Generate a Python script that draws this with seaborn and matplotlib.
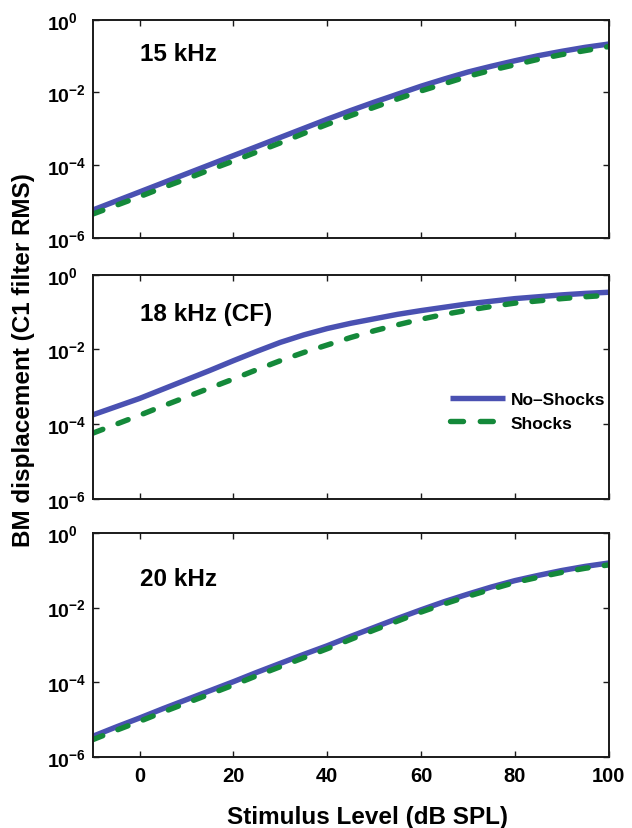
import numpy as np
import pandas as pd
import matplotlib
matplotlib.use("Agg")
import matplotlib.pyplot as plt
import seaborn as sns

# Stimulus levels (dB SPL)
levels = [-10, -5, 0, 5, 10, 15, 20, 25, 30, 35, 40, 45, 50,
          55, 60, 65, 70, 75, 80, 85, 90, 95, 100]

# log10 of BM displacement (C1 filter RMS) per probe frequency
no_shocks_15k = [-5.24, -4.99, -4.74, -4.49, -4.24, -3.99, -3.74, -3.49, -3.24, -2.99, -2.74, -2.50,
                 -2.27, -2.05, -1.83, -1.63, -1.44, -1.28, -1.13, -0.99, -0.87, -0.76, -0.67]
shocks_15k    = [-5.35, -5.11, -4.87, -4.62, -4.38, -4.13, -3.89, -3.64, -3.39, -3.13, -2.88, -2.64,
                 -2.41, -2.18, -1.96, -1.76, -1.56, -1.39, -1.24, -1.09, -0.96, -0.85, -0.74]

no_shocks_18k = [-3.75, -3.53, -3.31, -3.06, -2.81, -2.56, -2.30, -2.05, -1.81, -1.61, -1.44, -1.30,
                 -1.18, -1.06, -0.96, -0.87, -0.78, -0.71, -0.64, -0.59, -0.54, -0.50, -0.47]
shocks_18k    = [-4.24, -4.00, -3.76, -3.51, -3.27, -3.03, -2.79, -2.54, -2.30, -2.08, -1.88, -1.68,
                 -1.50, -1.34, -1.19, -1.06, -0.95, -0.85, -0.76, -0.70, -0.64, -0.59, -0.55]

no_shocks_20k = [-5.44, -5.19, -4.95, -4.70, -4.46, -4.22, -3.98, -3.73, -3.49, -3.25, -3.02, -2.77,
                 -2.53, -2.29, -2.06, -1.84, -1.64, -1.45, -1.28, -1.14, -1.01, -0.90, -0.81]
shocks_20k    = [-5.53, -5.28, -5.04, -4.79, -4.55, -4.31, -4.07, -3.82, -3.58, -3.34, -3.10, -2.85,
                 -2.60, -2.36, -2.12, -1.90, -1.70, -1.51, -1.33, -1.19, -1.06, -0.95, -0.86]

panel_titles = ["15 kHz", "18 kHz (CF)", "20 kHz"]
conditions = ["No\u2013Shocks", "Shocks"]
x_ticks = [0, 20, 40, 60, 80, 100]
y_ticks = [1e-6, 1e-4, 1e-2, 1e0]
y_tick_labels = [r"$\mathbf{10^{-6}}$", r"$\mathbf{10^{-4}}$", r"$\mathbf{10^{-2}}$", r"$\mathbf{10^{0}}$"]

series = [
    (no_shocks_15k, shocks_15k),
    (no_shocks_18k, shocks_18k),
    (no_shocks_20k, shocks_20k),
]

frames = []
for title, (ns, sh) in zip(panel_titles, series):
    for cond, vals in zip(conditions, (ns, sh)):
        frames.append(pd.DataFrame({
            "level": levels,
            "disp": np.power(10.0, vals),
            "condition": cond,
            "panel": title,
        }))
data = pd.concat(frames, ignore_index=True)

sns.set_theme(style="ticks")
plt.rcParams["font.family"] = ["Liberation Sans", "DejaVu Sans"]
plt.rcParams["font.weight"] = "bold"
plt.rcParams["text.color"] = "black"
plt.rcParams["axes.labelcolor"] = "black"
plt.rcParams["xtick.color"] = "black"
plt.rcParams["ytick.color"] = "black"
plt.rcParams["mathtext.fontset"] = "custom"
plt.rcParams["mathtext.rm"] = "Liberation Sans:bold"
plt.rcParams["mathtext.bf"] = "Liberation Sans:bold"
plt.rcParams["lines.dash_capstyle"] = "round"
plt.rcParams["lines.solid_capstyle"] = "butt"

W, H = 632, 829
fig = plt.figure(figsize=(W / 100, H / 100), dpi=100)

# axes boxes in pixels: (top, bottom)
left_px, right_px = 92.7, 608.7
boxes_px = [(20.7, 238.7), (275.7, 500.0), (533.7, 758.3)]
label_frac = [0.847, 0.825, 0.798]

palette = {"No\u2013Shocks": "#4a51b2", "Shocks": "#14893a"}
dashes = {"No\u2013Shocks": "", "Shocks": (2.0, 3.0)}

for i, (title, (top, bot)) in enumerate(zip(panel_titles, boxes_px)):
    ax = fig.add_axes([left_px / W, 1 - bot / H, (right_px - left_px) / W, (bot - top) / H])
    sub = data[data["panel"] == title]
    sns.lineplot(data=sub, x="level", y="disp", hue="condition", style="condition",
                 palette=palette, dashes=dashes, linewidth=3.9, ax=ax,
                 legend=(i == 1), hue_order=conditions, style_order=conditions)
    ax.set_yscale("log")
    ax.set_xlim(-10, 100)
    ax.set_ylim(1e-6, 1e0)
    ax.set_xticks(x_ticks)
    ax.set_yticks(y_ticks)
    ax.yaxis.set_minor_locator(matplotlib.ticker.NullLocator())
    ax.set_yticklabels(y_tick_labels)
    ax.set_xlabel("")
    ax.set_ylabel("")
    ax.tick_params(direction="in", length=4, width=1.0, top=True, right=True,
                   colors="#1a1a1a", labelcolor="black", labelsize=14.5)
    ax.tick_params(axis="y", pad=33)
    for lab in ax.get_yticklabels():
        lab.set_horizontalalignment("left")
        lab.set_fontsize(14)
    if i < 2:
        ax.tick_params(axis="x", labelbottom=False)
    else:
        ax.tick_params(axis="x", pad=6)
        for lab in ax.get_xticklabels():
            lab.set_fontweight("bold")
    for sp in ax.spines.values():
        sp.set_linewidth(1.4)
        sp.set_color("#1a1a1a")
    ax.text(0, label_frac[i], title, transform=ax.get_xaxis_transform(),
            ha="left", va="center", fontsize=17.5, fontweight="bold", color="black")
    if i == 1:
        leg = ax.legend(loc="center left", bbox_to_anchor=(0.692, 0.392),
                        frameon=False, fontsize=12.5, handlelength=3.2,
                        handletextpad=0.3, labelspacing=0.5, borderpad=0,
                        borderaxespad=0)
        leg.get_lines()[1].set_dashes((2.4, 3.1))
        for t in leg.get_texts():
            t.set_fontweight("bold")
            t.set_color("black")

fig.text(367.5 / W, 1 - 824 / H, "Stimulus Level (dB SPL)", ha="center", va="baseline",
         fontsize=17.5, fontweight="bold", color="black")
fig.text(30 / W, 1 - 360 / H, "BM displacement (C1 filter RMS)", ha="center", va="baseline",
         rotation=90, rotation_mode="anchor", fontsize=17.5, fontweight="bold", color="black")

fig.savefig("out.png", dpi=100)
